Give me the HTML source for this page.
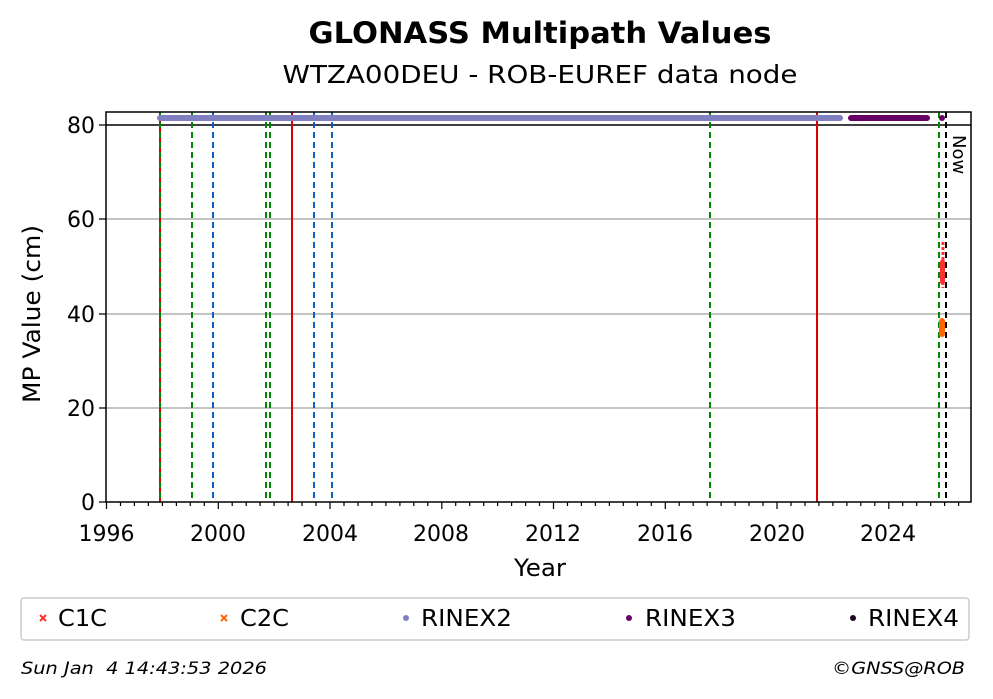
<!DOCTYPE html>
<html><head><meta charset="utf-8"><style>body{margin:0;background:#fff}svg{display:block;font-family:"DejaVu Sans","Liberation Sans",sans-serif}</style></head><body>
<svg width="993" height="699" viewBox="0 0 993 699">
<text x="540" y="43" text-anchor="middle" font-size="29" font-weight="bold" textLength="463" lengthAdjust="spacingAndGlyphs">GLONASS Multipath Values</text>
<text x="540" y="83" text-anchor="middle" font-size="25" textLength="515" lengthAdjust="spacingAndGlyphs">WTZA00DEU - ROB-EUREF data node</text>
<g stroke="#b0b0b0" stroke-width="1.5">
<line x1="106" x2="971" y1="408" y2="408"/><line x1="106" x2="971" y1="314" y2="314"/><line x1="106" x2="971" y1="219" y2="219"/>
</g>
<line x1="106" x2="971" y1="125" y2="125" stroke="#000" stroke-width="1.5"/>
<g stroke-width="2" fill="none">
<line x1="160" x2="160" y1="112" y2="502" stroke="#d00"/>
<line x1="160" x2="160" y1="112" y2="502" stroke="#080" stroke-dasharray="6,4"/>
<line x1="192" x2="192" y1="112" y2="502" stroke="#080" stroke-dasharray="6,4"/>
<line x1="213" x2="213" y1="112" y2="502" stroke="#1060c0" stroke-dasharray="6,4"/>
<line x1="266" x2="266" y1="112" y2="502" stroke="#080" stroke-dasharray="6,4"/>
<line x1="270" x2="270" y1="112" y2="502" stroke="#080" stroke-dasharray="6,4"/>
<line x1="292" x2="292" y1="112" y2="502" stroke="#d00"/>
<line x1="314" x2="314" y1="112" y2="502" stroke="#1060c0" stroke-dasharray="6,4"/>
<line x1="332" x2="332" y1="112" y2="502" stroke="#1060c0" stroke-dasharray="6,4"/>
<line x1="710" x2="710" y1="112" y2="502" stroke="#080" stroke-dasharray="6,4"/>
<line x1="817" x2="817" y1="112" y2="502" stroke="#d00"/>
<line x1="939" x2="939" y1="112" y2="502" stroke="#080" stroke-dasharray="6,4"/>
<line x1="946" x2="946" y1="112" y2="502" stroke="#000" stroke-dasharray="6,4"/>
</g>
<line x1="160" x2="840" y1="118" y2="118" stroke="#8080c0" stroke-width="6" stroke-linecap="round"/>
<line x1="851" x2="927" y1="118" y2="118" stroke="#660066" stroke-width="6" stroke-linecap="round"/>
<circle cx="942" cy="118" r="3" fill="#660066"/>
<line x1="943" x2="943" y1="242" y2="288" stroke="#ff3030" stroke-width="3" stroke-dasharray="3,2"/>
<line x1="942.5" x2="942.5" y1="262" y2="282" stroke="#ff3030" stroke-width="5" stroke-linecap="round"/>
<line x1="942" x2="942" y1="321" y2="334" stroke="#ff6600" stroke-width="6" stroke-linecap="round"/>
<text transform="translate(953,135) rotate(90)" font-size="18">Now</text>
<rect x="106" y="112" width="865" height="390" fill="none" stroke="#000" stroke-width="1.5"/>
<g stroke="#000" stroke-width="1.2">
<path d="M106.5 502v7M218.3 502v7M330 502v7M441.8 502v7M553.5 502v7M665.3 502v7M777 502v7M888.8 502v7"/>
<path d="M120.5 502v4M134.4 502v4M148.4 502v4M162.4 502v4M176.4 502v4M190.3 502v4M204.3 502v4M232.2 502v4M246.2 502v4M260.1 502v4M274.1 502v4M288.1 502v4M302 502v4M316 502v4M344 502v4M358 502v4M371.9 502v4M385.9 502v4M399.9 502v4M413.8 502v4M427.8 502v4M455.7 502v4M469.7 502v4M483.7 502v4M497.6 502v4M511.6 502v4M525.6 502v4M539.5 502v4M567.5 502v4M581.4 502v4M595.4 502v4M609.4 502v4M623.3 502v4M637.3 502v4M651.3 502v4M679.2 502v4M693.2 502v4M707.1 502v4M721.1 502v4M735.1 502v4M749 502v4M763 502v4M791 502v4M805 502v4M818.9 502v4M832.9 502v4M846.9 502v4M860.8 502v4M874.8 502v4M902.7 502v4M916.7 502v4M930.7 502v4M944.6 502v4M958.6 502v4"/>
<path d="M99 502h7M99 408h7M99 314h7M99 219h7M99 125h7"/>
</g>
<g font-size="22" text-anchor="end">
<text x="95" y="510">0</text><text x="95" y="416">20</text><text x="95" y="322">40</text><text x="95" y="227">60</text><text x="95" y="133">80</text>
</g>
<g font-size="22" text-anchor="middle">
<text x="106.5" y="541">1996</text><text x="218" y="541">2000</text><text x="330" y="541">2004</text><text x="441" y="541">2008</text><text x="553" y="541">2012</text><text x="665" y="541">2016</text><text x="777" y="541">2020</text><text x="888" y="541">2024</text>
</g>
<text x="540" y="576" text-anchor="middle" font-size="24" textLength="52" lengthAdjust="spacingAndGlyphs">Year</text>
<text transform="translate(40,314) rotate(-90)" text-anchor="middle" font-size="24" textLength="178" lengthAdjust="spacingAndGlyphs">MP Value (cm)</text>
<rect x="21" y="598" width="948" height="42" rx="3" fill="#fff" stroke="#ccc" stroke-width="1.5"/>
<g stroke-width="2">
<path d="M40 615l6 6M46 615l-6 6" stroke="#ff3030"/>
<path d="M221 615l6 6M227 615l-6 6" stroke="#ff6600"/>
</g>
<g font-size="23">
<text x="58" y="626" textLength="49" lengthAdjust="spacingAndGlyphs">C1C</text>
<text x="240" y="626" textLength="49" lengthAdjust="spacingAndGlyphs">C2C</text>
<circle cx="406" cy="618" r="3" fill="#8080c0"/><text x="421" y="626" textLength="91" lengthAdjust="spacingAndGlyphs">RINEX2</text>
<circle cx="629" cy="618" r="3" fill="#660066"/><text x="645" y="626" textLength="91" lengthAdjust="spacingAndGlyphs">RINEX3</text>
<circle cx="853" cy="618" r="3" fill="#200020"/><text x="868" y="626" textLength="91" lengthAdjust="spacingAndGlyphs">RINEX4</text>
</g>
<text x="21" y="674" font-size="17" font-style="italic" xml:space="preserve" textLength="246" lengthAdjust="spacingAndGlyphs">Sun Jan  4 14:43:53 2026</text>
<text x="965" y="674" font-size="17" font-style="italic" text-anchor="end" textLength="133" lengthAdjust="spacingAndGlyphs">©GNSS@ROB</text>
</svg>
</body></html>
